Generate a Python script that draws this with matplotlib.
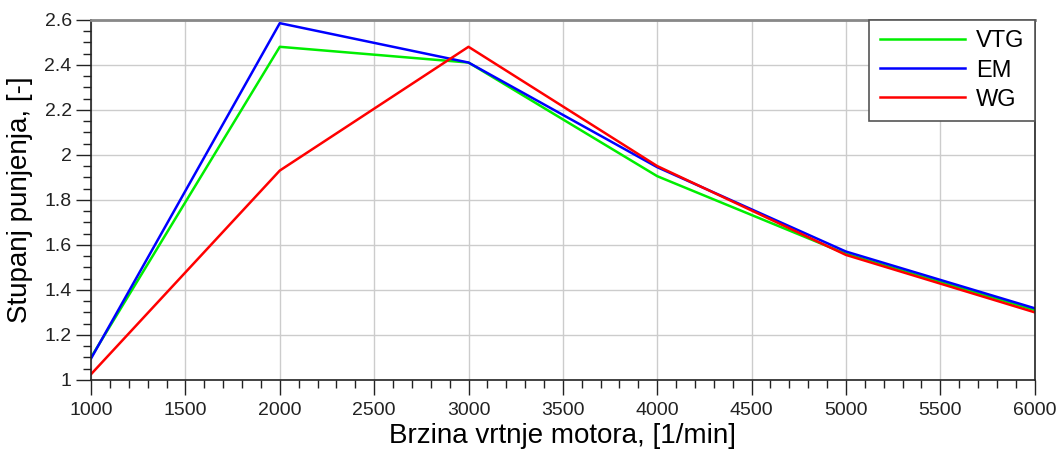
import numpy as np
import matplotlib
matplotlib.use("Agg")
import matplotlib.pyplot as plt
from matplotlib.ticker import MultipleLocator

# Datos
brzina = [1000, 2000, 3000, 4000, 5000, 6000]
vtg = [1.10, 2.48, 2.41, 1.905, 1.56, 1.31]
em = [1.095, 2.585, 2.41, 1.945, 1.57, 1.318]
wg = [1.025, 1.93, 2.48, 1.95, 1.555, 1.30]

plt.rcParams['font.family'] = ['Liberation Sans', 'DejaVu Sans']

fig = plt.figure(figsize=(10.59, 4.5), dpi=100)
ax = fig.add_axes([0.086, 0.156, 0.891, 0.80])

ax.plot(brzina, vtg, color="#00ee00", lw=1.8, label="VTG")
ax.plot(brzina, em, color="#0000ff", lw=1.8, label="EM")
ax.plot(brzina, wg, color="#ff0000", lw=1.8, label="WG")

ax.set_xlim(1000, 6000)
ax.set_ylim(1, 2.6)
ax.xaxis.set_major_locator(MultipleLocator(500))
ax.xaxis.set_minor_locator(MultipleLocator(100))
ax.yaxis.set_minor_locator(MultipleLocator(0.05))
ax.set_yticks([1, 1.2, 1.4, 1.6, 1.8, 2, 2.2, 2.4, 2.6])
ax.set_yticklabels(["1", "1.2", "1.4", "1.6", "1.8", "2", "2.2", "2.4", "2.6"])

ax.grid(True, which="major", color="#cccccc", lw=1)
ax.tick_params(which="major", direction="out", length=11, width=1, labelsize=14, colors="#222222")
ax.tick_params(which="minor", direction="out", length=6, width=1, colors="#222222")
ax.tick_params(axis="x", pad=5)
ax.tick_params(axis="y", pad=3)

for s in ["left", "bottom", "right"]:
    ax.spines[s].set_color("#222222")
    ax.spines[s].set_linewidth(1.2)
ax.spines["top"].set_color("#888888")
ax.spines["top"].set_linewidth(2)

ax.set_xlabel("Brzina vrtnje motora, [1/min]", fontsize=20, labelpad=3)
ax.set_ylabel("Stupanj punjenja, [-]", fontsize=20, labelpad=8)

leg = ax.legend(loc="upper right", fontsize=17, fancybox=False, framealpha=1,
                edgecolor="#555555", handlelength=3.6, handletextpad=0.45,
                borderaxespad=0, labelspacing=0.3, borderpad=0.45)
leg.get_frame().set_linewidth(1.2)

fig.savefig("out.png", dpi=100)
